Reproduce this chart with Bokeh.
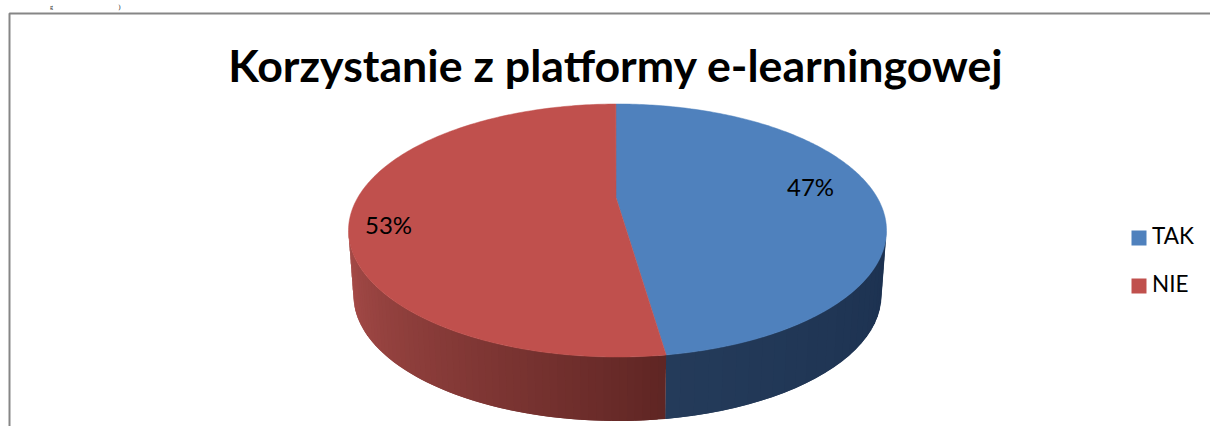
import numpy as np
from bokeh.plotting import figure
from bokeh.models import Range1d
from bokeh.core.properties import value
from bokeh.embed import file_html
from bokeh.resources import INLINE

title_text = "Korzystanie z platformy e-learningowej"
categories = ["TAK", "NIE"]
shares = [47.2, 52.8]
colors = ["#4f81bd", "#c0504d"]
label_x = [810, 388]
label_y = [186, 224]
clipped_glyphs = ["g", ")"]
clipped_x = [51, 119]

W, H = 1210, 426
CX, CY, RX, RY = 617.0, 230.0, 269.0, 126.5
APEX_X, APEX_Y = 615.5, 197.0
START = -0.006
B_RX, B_CY, B_RY = 264.0, 295.0, 125.5
FONT = value("Lato")


def rim(t):
    return CX + RX * np.sin(t), CY - RY * np.cos(t)


def low(t):
    return CX + B_RX * np.sin(t), B_CY - B_RY * np.cos(t)


def mix(a, b, f):
    ca = [int(a[i:i + 2], 16) for i in (1, 3, 5)]
    cb = [int(b[i:i + 2], 16) for i in (1, 3, 5)]
    return "#%02x%02x%02x" % tuple(round(x + (y - x) * f) for x, y in zip(ca, cb))


p = figure(width=W, height=H, output_backend="svg", toolbar_location=None,
           x_range=Range1d(0, W), y_range=Range1d(H, 0), min_border=0,
           margin=(0, 0, 0, 0))
p.axis.visible = False
p.grid.visible = False
p.outline_line_color = None
p.background_fill_color = "#ffffff"
p.border_fill_color = "#ffffff"

# frame
p.line([9, 9, W], [H, 13, 13], line_color="#868686", line_width=2)

# remains of the line of text above the chart
p.text(clipped_x, [6, 6], text=clipped_glyphs, text_font=value("Liberation Serif"),
       text_font_size="6px", text_color="#000000", text_align="center",
       text_baseline="alphabetic")

total = sum(shares)
boundary = START + 2 * np.pi * shares[0] / total

# side wall: strips along the visible front rim, each overlapping the next
t_right = np.pi / 2
t_left = 3 * np.pi / 2


def wall(t0, t1, n, c0, c1, power):
    edges = np.linspace(t0, t1, n + 1)
    step = edges[1] - edges[0]
    for i in range(n):
        a, b = edges[i], edges[i + 1]
        f = ((a + b) / 2 - t0) / (t1 - t0)
        col = mix(c0, c1, f ** power)
        b2 = min(b + step, t1)
        xa, ya = rim(a)
        xb, yb = rim(b2)
        xc, yc = low(b2)
        xd, yd = low(a)
        p.patch([xa, xb, xc, xd], [ya, yb, yc, yd], fill_color=col,
                line_color=None)


wall(t_right, boundary, 25, "#1c3150", "#243b5a", 1.0)
wall(boundary, t_left, 60, "#5e2523", "#a84c49", 0.9)

# top face
start = START
for share, col in zip(shares, colors):
    end = start + 2 * np.pi * share / total
    ts = np.linspace(start, end, 240)
    xs, ys = rim(ts)
    p.patch(list(xs) + [APEX_X], list(ys) + [APEX_Y],
            fill_color=col, line_color=col, line_width=0.5)
    start = end

# data labels
p.text(label_x, label_y, text=[f"{round(s)}%" for s in shares], text_font=FONT,
       text_font_size="24px", text_color="#000000", text_align="center",
       text_baseline="middle")

# title
p.text([615.5], [64], text=[title_text], text_font=FONT, text_font_style="bold",
       text_font_size="44.7px", text_color="#000000", text_align="center",
       text_baseline="middle")

# legend
p.scatter([1138.5, 1138.5], [237.5, 285.5], marker="square", size=15,
          fill_color=colors, line_color=None)
p.text([1151.5, 1151.5], [235, 283], text=categories, text_font=FONT,
       text_font_size="22.5px", text_color="#000000", text_align="left",
       text_baseline="middle")

open("out.html", "w").write(file_html(p, INLINE))
